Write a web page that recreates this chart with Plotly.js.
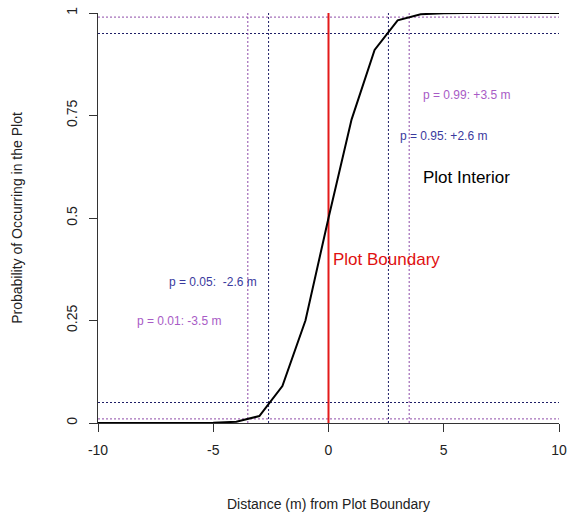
<!DOCTYPE html>
<html>
<head>
<meta charset="utf-8">
<script src="https://cdn.plot.ly/plotly-3.0.1.min.js"></script>
<style>
  html, body { margin: 0; padding: 0; background: #fff; }
  #chart { width: 568px; height: 516px; }
</style>
</head>
<body>
<div id="chart"></div>
<script>
// Probability of a point falling inside the plot, by distance from the boundary
const distance = [-10, -9, -8, -7, -6, -5, -4, -3, -2, -1, 0, 1, 2, 3, 4, 5, 6, 7, 8, 9, 10];
const probability = [0, 0, 0, 0, 0, 0.0007, 0.003, 0.017, 0.09, 0.25, 0.5, 0.74, 0.91, 0.982, 0.997, 0.9995, 1, 1, 1, 1, 1];

// Threshold probabilities and the distances where they are reached
const outerProbs = [0.01, 0.99];
const outerDists = [-3.5, 3.5];
const innerProbs = [0.05, 0.95];
const innerDists = [-2.6, 2.6];

// Text annotations
const noteTexts = ["p = 0.99: +3.5 m", "p = 0.95: +2.6 m", "p = 0.05:  -2.6 m", "p = 0.01: -3.5 m", "Plot Interior", "Plot Boundary"];
const noteX = [6, 5, -5, -6.5, 6, 2.5];
const noteY = [0.8, 0.7, 0.345, 0.25, 0.6, 0.4];

const yTicks = [0, 0.25, 0.5, 0.75, 1];
const yTickText = ["0", "0.25", "0.5", "0.75", "1"];
const xTicks = [-10, -5, 0, 5, 10];
const xTickText = ["-10", "-5", "0", "5", "10"];

const purple = '#8e4aa8';
const purpleText = '#a85bc6';
const navy = '#1e1e66';
const navyText = '#3a3a9e';
const noteColors = [purpleText, navyText, navyText, purpleText, '#000000', '#e01010'];
const noteSizes = [12, 12, 12, 12, 17, 17];

const FONT = 'Liberation Sans, Arial, sans-serif';
const DOTS = '2px,2px';

const shapes = [];
function hline(y, color) {
  shapes.push({ type: 'line', xref: 'x', yref: 'y', x0: -10, x1: 10, y0: y, y1: y,
    line: { color: color, width: 1, dash: DOTS }, layer: 'below' });
}
function vline(x, color) {
  shapes.push({ type: 'line', xref: 'x', yref: 'y', x0: x, x1: x, y0: 0, y1: 1,
    line: { color: color, width: 1, dash: DOTS }, layer: 'below' });
}
outerProbs.forEach(p => hline(p, purple));
innerProbs.forEach(p => hline(p, navy));
outerDists.forEach(d => vline(d, purple));
innerDists.forEach(d => vline(d, navy));

const traces = [
  { x: [0, 0], y: [0, 1], mode: 'lines', line: { color: '#e31a1a', width: 2 }, hoverinfo: 'skip' },
  { x: distance, y: probability, mode: 'lines', line: { color: '#000000', width: 2 } }
];

const annotations = noteTexts.map((t, i) => ({
  x: noteX[i], y: noteY[i], xref: 'x', yref: 'y', text: t, showarrow: false,
  xanchor: 'center', yanchor: 'middle',
  font: { family: FONT, size: noteSizes[i], color: noteColors[i] }
}));

const layout = {
  width: 568, height: 516,
  margin: { l: 98, r: 9, t: 13, b: 93 },
  paper_bgcolor: '#ffffff', plot_bgcolor: '#ffffff',
  showlegend: false,
  font: { family: FONT, size: 14, color: '#222' },
  xaxis: {
    range: [-10, 10], tickvals: xTicks, ticktext: xTickText, ticks: 'outside', ticklen: 8, tickcolor: '#333',
    showline: true, linecolor: '#333', linewidth: 1, showgrid: false, zeroline: false,
    tickfont: { family: FONT, size: 14, color: '#222' }, ticklabelstandoff: 6,
    title: { text: 'Distance (m) from Plot Boundary', standoff: 42, font: { family: FONT, size: 14, color: '#222' } }
  },
  yaxis: {
    range: [0, 1], tickvals: yTicks, ticktext: yTickText, tickangle: -90, ticks: 'outside', ticklen: 8, tickcolor: '#333',
    showline: true, linecolor: '#333', linewidth: 1, showgrid: false, zeroline: false,
    tickfont: { family: FONT, size: 14, color: '#222' }, ticklabelstandoff: 6,
    title: { text: 'Probability of Occurring in the Plot', standoff: 38, font: { family: FONT, size: 14, color: '#222' } }
  },
  shapes: shapes,
  annotations: annotations
};

Plotly.newPlot('chart', traces, layout, { displayModeBar: false, staticPlot: true });
</script>
</body>
</html>
